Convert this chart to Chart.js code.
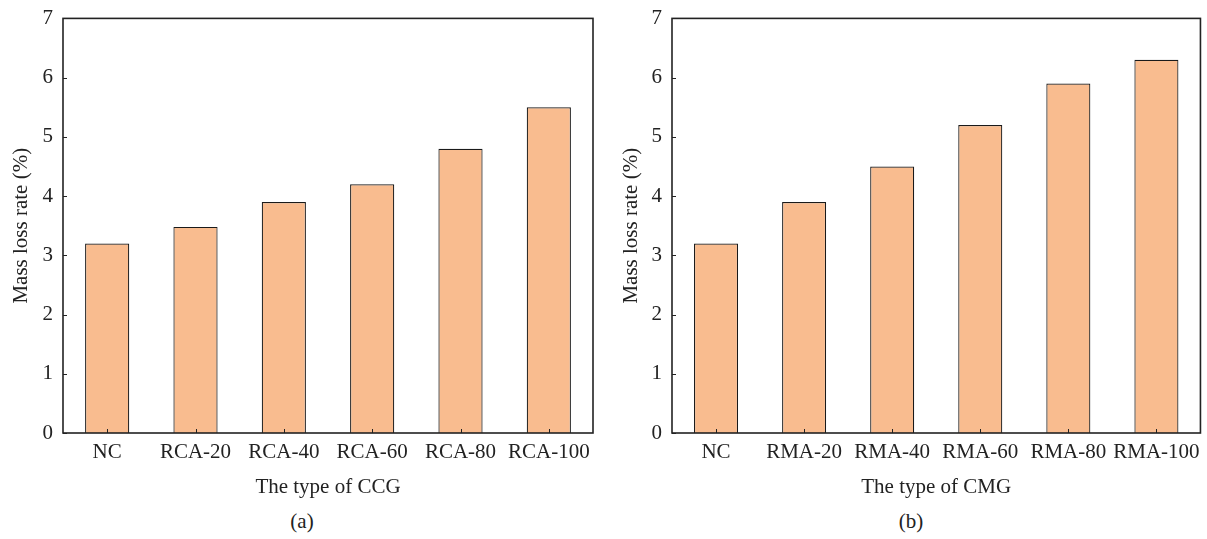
<!DOCTYPE html>
<html>
<head>
<meta charset="utf-8">
<script src="https://cdn.jsdelivr.net/npm/chart.js@4.4.0/dist/chart.umd.min.js"></script>
<style>
  body { margin: 0; background: #fff; width: 1207px; height: 539px; position: relative; overflow: hidden; }
  .panel { position: absolute; top: 0; }
  .caption { position: absolute; top: 509px; font-family: "Liberation Serif", serif; font-size: 21px; color: #222; transform: translateX(-50%); }
</style>
</head>
<body>
<div class="panel" style="left:0; width:603px; height:504px;"><canvas id="chartA"></canvas></div>
<div class="panel" style="left:610px; width:597px; height:504px;"><canvas id="chartB"></canvas></div>
<div class="caption" style="left:302px;">(a)</div>
<div class="caption" style="left:911px;">(b)</div>
<script>
// datos
const categoriasA = ['NC', 'RCA-20', 'RCA-40', 'RCA-60', 'RCA-80', 'RCA-100'];
const valoresA = [3.2, 3.48, 3.9, 4.2, 4.8, 5.5];
const categoriasB = ['NC', 'RMA-20', 'RMA-40', 'RMA-60', 'RMA-80', 'RMA-100'];
const valoresB = [3.2, 3.9, 4.5, 5.2, 5.9, 6.3];
const ticksY = [0, 1, 2, 3, 4, 5, 6, 7];

const fuente = { family: '"Liberation Serif", "Times New Roman", serif', size: 21 };
const fuenteTicksY = { family: '"Liberation Serif", "Times New Roman", serif', size: 21, lineHeight: 0.8 };
const colorTexto = '#222';

// marco y marcas hacia dentro
const marcoPlugin = {
    id: 'marco',
    afterDraw(chart) {
        const { ctx, chartArea: a, scales } = chart;
        ctx.save();
        ctx.strokeStyle = '#222';
        ctx.lineWidth = 1;
        scales.y.ticks.forEach((t, i) => {
            const y = Math.round(scales.y.getPixelForTick(i)) + 0.5;
            ctx.beginPath();
            ctx.moveTo(a.left, y);
            ctx.lineTo(a.left + 4, y);
            ctx.stroke();
        });
        scales.x.ticks.forEach((t, i) => {
            const x = Math.round(scales.x.getPixelForTick(i)) + 0.5;
            ctx.beginPath();
            ctx.moveTo(x, a.bottom);
            ctx.lineTo(x, a.bottom - 4);
            ctx.stroke();
        });
        ctx.lineWidth = 1.6;
        ctx.strokeRect(a.left, a.top, a.right - a.left, a.bottom - a.top);
        ctx.restore();
    }
};

function crearGrafico(id, categorias, valores, tituloX, anchoEjeY, margenDer) {
    const ctx = document.getElementById(id).getContext('2d');
    return new Chart(ctx, {
        type: 'bar',
        data: {
            labels: categorias,
            datasets: [{
                data: valores,
                backgroundColor: '#F9BC8F',
                borderColor: '#1a1a1a',
                borderWidth: 1.2,
                barPercentage: 0.5,
                categoryPercentage: 1.0
            }]
        },
        options: {
            responsive: true,
            maintainAspectRatio: false,
            animation: false,
            layout: { padding: { left: 5, right: margenDer, top: 18, bottom: 0 } },
            plugins: { legend: { display: false }, tooltip: { enabled: false } },
            scales: {
                x: {
                    grid: { display: false, drawTicks: false },
                    border: { display: false },
                    ticks: { font: fuente, color: colorTexto, padding: 7, maxRotation: 0, autoSkip: false },
                    title: { display: true, text: tituloX, font: fuente, color: colorTexto, padding: 4 },
                    afterFit(scale) { scale.height = 71; }
                },
                y: {
                    min: 0,
                    max: 7,
                    afterBuildTicks(scale) { scale.ticks = ticksY.map(v => ({ value: v })); },
                    grid: { display: false, drawTicks: false },
                    border: { display: false },
                    ticks: { font: fuenteTicksY, color: colorTexto, padding: 10 },
                    title: { display: true, text: 'Mass loss rate (%)', font: fuente, color: colorTexto, padding: 4 },
                    afterFit(scale) { scale.width = anchoEjeY; }
                }
            }
        },
        plugins: [marcoPlugin]
    });
}

crearGrafico('chartA', categoriasA, valoresA, 'The type of CCG', 58, 10);
crearGrafico('chartB', categoriasB, valoresB, 'The type of CMG', 57, 5);
</script>
</body>
</html>
